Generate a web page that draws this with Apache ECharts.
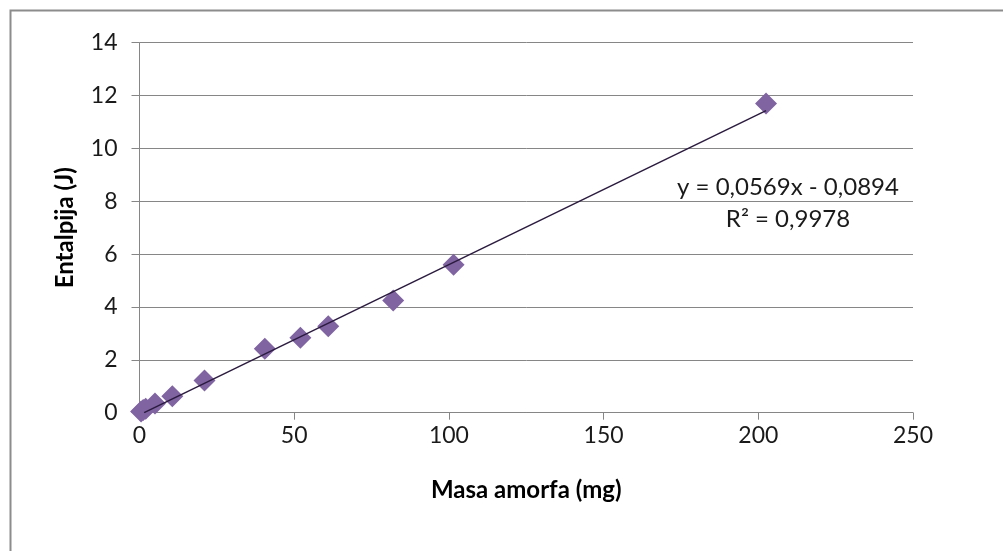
<!DOCTYPE html>
<html>
<head>
<meta charset="utf-8">
<script src="https://cdn.jsdelivr.net/npm/echarts@6/dist/echarts.min.js"></script>
<style>
html,body{margin:0;padding:0;background:#fff;}
#chart{width:1003px;height:551px;}
</style>
</head>
<body>
<div id="chart"></div>
<script>
// Data
const masaAmorfa = [0.5, 1.2, 2.0, 5.0, 10.6, 21.0, 40.5, 52.0, 61.0, 82.0, 101.5, 202.5];
const entalpija  = [0.05, 0.1, 0.15, 0.35, 0.62, 1.22, 2.42, 2.84, 3.27, 4.25, 5.6, 11.7];
const trendX = [1.5, 202.5];
const trendY = [0.0, 11.43];
const equationLines = ['y = 0,0569x - 0,0894', 'R\u00B2 = 0,9978'];
const xTitle = 'Masa amorfa (mg)';
const yTitle = 'Entalpija (J)';

const points = masaAmorfa.map((x, i) => [x, entalpija[i]]);
const trend = trendX.map((x, i) => [x, trendY[i]]);

const chart = echarts.init(document.getElementById('chart'), null, {renderer: 'canvas'});
const font = 'Lato, "Open Sans", sans-serif';
chart.setOption({
  animation: false,
  backgroundColor: '#fff',
  grid: {left: 139.5, top: 42.7, right: 90, bottom: 138.3, containLabel: false},
  xAxis: {
    type: 'value', min: 0, max: 250, interval: 50,
    axisLine: {show: true, onZero: false, lineStyle: {color: '#868686', width: 1}},
    axisTick: {show: true, length: 7, lineStyle: {color: '#868686'}},
    splitLine: {show: false},
    axisLabel: {color: '#1a1a1a', fontSize: 23, fontFamily: font, margin: 11},
    name: xTitle, nameLocation: 'middle', nameGap: 66,
    nameTextStyle: {color: '#000', fontSize: 24, fontWeight: 'bold', fontFamily: font}
  },
  yAxis: {
    type: 'value', min: 0, max: 14, interval: 2,
    axisLine: {show: true, lineStyle: {color: '#868686', width: 1}},
    axisTick: {show: true, length: 8, lineStyle: {color: '#868686'}},
    splitLine: {show: true, lineStyle: {color: '#868686', width: 1}},
    axisLabel: {color: '#1a1a1a', fontSize: 23, fontFamily: font, margin: 22},
    name: yTitle, nameLocation: 'middle', nameGap: 62, nameRotate: 90,
    nameTextStyle: {color: '#000', fontSize: 24, fontWeight: 'bold', fontFamily: font}
  },
  series: [
    {
      type: 'scatter', data: points, symbol: 'diamond', symbolSize: 22,
      itemStyle: {color: '#8064A2', opacity: 1}, z: 2
    },
    {
      type: 'line', data: trend, symbol: 'none', z: 3,
      lineStyle: {color: '#2B1B3F', width: 1.5}
    }
  ],
  graphic: [
    {type: 'rect', left: 8, top: 8, shape: {width: 1000, height: 550},
     style: {fill: 'none', stroke: '#8c8c8c', lineWidth: 2}, silent: true},
    {type: 'text', x: 788, y: 187, style: {text: equationLines[0], fill: '#1a1a1a', font: '24px ' + font, textAlign: 'center', textVerticalAlign: 'middle'}},
    {type: 'text', x: 788, y: 219, style: {text: equationLines[1], fill: '#1a1a1a', font: '24px ' + font, textAlign: 'center', textVerticalAlign: 'middle'}}
  ]
});
</script>
</body>
</html>
